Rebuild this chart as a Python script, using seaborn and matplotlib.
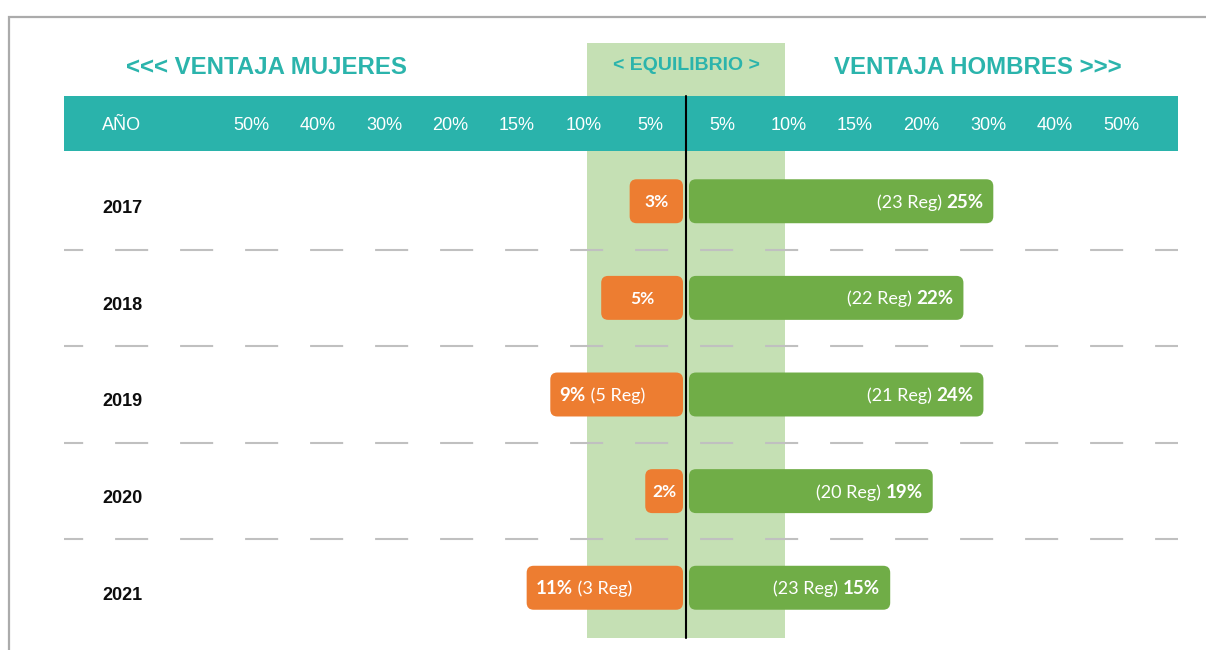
import numpy as np
import pandas as pd
import matplotlib
matplotlib.use("Agg")
import matplotlib.pyplot as plt
import seaborn as sns
from matplotlib.patches import FancyBboxPatch, Rectangle
from matplotlib.transforms import IdentityTransform

# ---------------- data ----------------
years = ["2017", "2018", "2019", "2020", "2021"]
mujeres = [3, 5, 9, 2, 11]           # % ventaja mujeres
hombres = [25, 22, 24, 19, 15]       # % ventaja hombres
reg_mujeres = [None, None, 5, None, 3]
reg_hombres = [23, 22, 21, 20, 23]
header_first = "AÑO"
header_left = ["50%", "40%", "30%", "20%", "15%", "10%", "5%"]
header_right = ["5%", "10%", "15%", "20%", "30%", "40%", "50%"]
title_left = "<<< VENTAJA MUJERES"
title_mid = "< EQUILIBRIO >"
title_right = "VENTAJA HOMBRES >>>"

# ---------------- style ----------------
TEAL = "#2ab3ab"
TEAL_TXT = "#2bb4ac"
ORANGE = "#ed7d31"
GREEN = "#70ad47"
BAND = "#c5e0b4"
DASH = "#c0c0c0"
LABEL_FONT = ["Lato", "DejaVu Sans"]

sns.set_theme(style="white")
plt.rcParams["font.family"] = ["Liberation Sans", "DejaVu Sans"]
plt.rcParams["lines.scale_dashes"] = False

W, H = 1206, 650
fig = plt.figure(figsize=(W / 100, H / 100), dpi=100)
fig.patch.set_facecolor("white")

# background / decoration axes in pixel space
bg = fig.add_axes([0, 0, 1, 1], zorder=0)
bg.set_xlim(0, W)
bg.set_ylim(H, 0)
bg.axis("off")

CX = 686  # centre line pixel
bg.plot([9, 9, W + 5], [H + 5, 17, 17], color="#ababab", lw=1.6,
        solid_joinstyle="miter", clip_on=False)
bg.add_patch(Rectangle((587, 43), 198, 595, color=BAND, lw=0))
bg.add_patch(Rectangle((64, 96), 1114, 55, color=TEAL, lw=0))

bg.text(266.5, 67.5, title_left, ha="center", va="center", color=TEAL_TXT,
        fontsize=17.3, fontweight="bold")
bg.text(CX, 65.5, title_mid, ha="center", va="center", color=TEAL_TXT,
        fontsize=14, fontweight="bold")
bg.text(978, 67.5, title_right, ha="center", va="center", color=TEAL_TXT,
        fontsize=17.3, fontweight="bold")

bg.text(102, 125, header_first, ha="left", va="center", color="white", fontsize=13)
STEP = 66.5
for i, lab in enumerate(reversed(header_left)):
    bg.text(CX - 36 - STEP * i, 125, lab, ha="center", va="center",
            color="white", fontsize=13)
for i, lab in enumerate(header_right):
    bg.text(CX + 36 + STEP * i, 125, lab, ha="center", va="center",
            color="white", fontsize=13)

# ---------------- main axes ----------------
AX_L, AX_R, AX_T, AX_B = 64, 1178, 151, 638
ax = fig.add_axes([AX_L / W, (H - AX_B) / H, (AX_R - AX_L) / W, (AX_B - AX_T) / H],
                  zorder=1)
ax.patch.set_alpha(0)

df = pd.DataFrame({
    "year": years * 2,
    "value": [-m for m in mujeres] + hombres,
    "sexo": ["Mujeres"] * len(years) + ["Hombres"] * len(years),
})
sns.barplot(data=df, x="value", y="year", hue="sexo",
            palette={"Mujeres": ORANGE, "Hombres": GREEN}, saturation=1,
            orient="h", dodge=False, width=0.455, errorbar=None,
            legend=False, ax=ax)

POW = 0.8
fwd = lambda x: np.sign(x) * np.abs(x) ** POW
inv = lambda u: np.sign(u) * np.abs(u) ** (1 / POW)
ax.set_xscale("function", functions=(fwd, inv))
K = 23.4  # px per scale unit
ax.set_xlim(-inv((CX - AX_L) / K), inv((AX_R - CX) / K))
ax.set_ylim(len(years) - 0.48, -0.52)
ax.set_axis_off()

# dashed separators
for i in range(len(years) - 1):
    ax.axhline(i + 0.5, color=DASH, lw=1.5, ls=(10, (23.8, 23)), zorder=2)

# centre line (extends up through the header band)
ax.axvline(0, ymin=0, ymax=(AX_B - 96) / (AX_B - AX_T), color="black",
           lw=1.5, clip_on=False, zorder=5)

# rounded bars, built from seaborn's rectangles
GAP, RAD = 3, 7
rounded = {}
for p in list(ax.patches):
    x0, y0, w, h = p.get_x(), p.get_y(), p.get_width(), p.get_height()
    if w == 0 or np.isnan(w):
        p.remove()
        continue
    (X0, Y0) = ax.transData.transform((x0, y0))
    (X1, Y1) = ax.transData.transform((x0 + w, y0 + h))
    L, R = min(X0, X1), max(X0, X1)
    B, T = min(Y0, Y1), max(Y0, Y1)
    side = "h" if (x0 + w) > 0 else "m"
    if side == "h":
        L += GAP
    else:
        R -= GAP
    idx = int(round(y0 + h / 2))
    nb = FancyBboxPatch((L, B), R - L, T - B,
                        boxstyle=f"round,pad=0,rounding_size={RAD}",
                        transform=IdentityTransform(), fc=p.get_facecolor(),
                        ec="none", zorder=3)
    ax.add_patch(nb)
    rounded[(side, idx)] = nb
    p.remove()

FS = 13.5
for i in range(len(years)):
    # men
    nb = rounded[("h", i)]
    tb = ax.annotate(f"{hombres[i]}%", xy=(1, 0.5), xycoords=nb, xytext=(-7.2, -0.8),
                     textcoords="offset points", ha="right", va="center",
                     color="white", fontsize=FS, fontweight="bold",
                     family=LABEL_FONT, zorder=6)
    if reg_hombres[i] is not None:
        ax.annotate(f"({reg_hombres[i]} Reg) ", xy=(0, 0), xycoords=tb,
                    ha="right", va="bottom", color="white", fontsize=FS - 0.5,
                    family=LABEL_FONT, zorder=6)
    # women
    nb = rounded[("m", i)]
    if reg_mujeres[i] is not None:
        tb = ax.annotate(f"{mujeres[i]}%", xy=(0, 0.5), xycoords=nb, xytext=(6.5, -0.8),
                         textcoords="offset points", ha="left", va="center",
                         color="white", fontsize=FS, fontweight="bold",
                         family=LABEL_FONT, zorder=6)
        ax.annotate(f" ({reg_mujeres[i]} Reg)", xy=(1, 0), xycoords=tb,
                    ha="left", va="bottom", color="white", fontsize=FS - 0.5,
                    family=LABEL_FONT, zorder=6)
    else:
        ax.annotate(f"{mujeres[i]}%", xy=(0.5, 0.5), xycoords=nb, xytext=(0, -0.8),
                    textcoords="offset points", ha="center", va="center",
                    color="white", fontsize=FS - 1, fontweight="bold",
                    family=LABEL_FONT, zorder=6)
    # year label
    ax.annotate(years[i], xy=(0, i), xycoords=("axes fraction", "data"),
                xytext=(38 * 0.72, -7.5 * 0.72), textcoords="offset points",
                ha="left", va="center", fontsize=13, fontweight="bold",
                color="#0d0d0d")

fig.savefig("out.png", dpi=100)
